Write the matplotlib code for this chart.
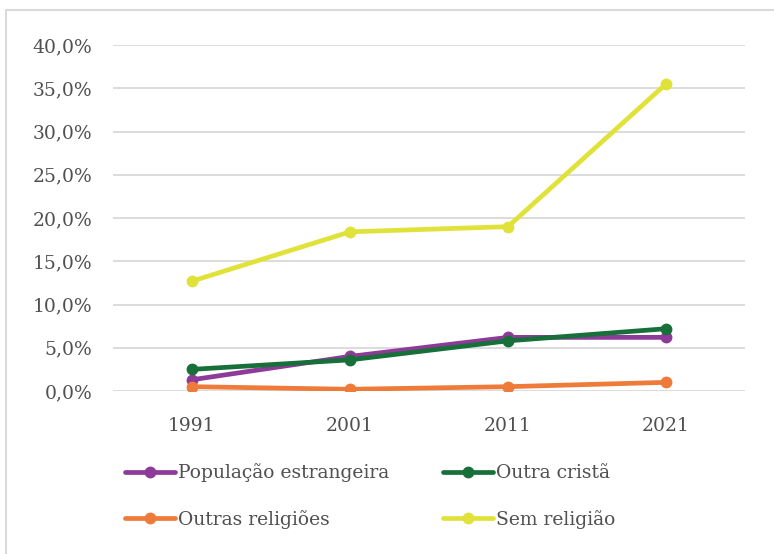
import matplotlib
matplotlib.use("Agg")
import matplotlib.pyplot as plt
from matplotlib.patches import Rectangle
from matplotlib.ticker import FuncFormatter

years = ["1991", "2001", "2011", "2021"]
pop_estrangeira = [1.3, 4.0, 6.2, 6.2]
outra_crista = [2.5, 3.6, 5.8, 7.2]
outras_religioes = [0.5, 0.2, 0.5, 1.0]
sem_religiao = [12.7, 18.4, 19.0, 35.5]

series = [
    ("População estrangeira", pop_estrangeira, "#8E3A98"),
    ("Outra cristã", outra_crista, "#17703A"),
    ("Outras religiões", outras_religioes, "#EE7B3A"),
    ("Sem religião", sem_religiao, "#E0E23A"),
]

plt.rcParams['font.family'] = ['DejaVu Serif']
text_color = "#505050"
fs = 13.5

fig = plt.figure(figsize=(7.74, 5.54), dpi=100)
fig.patches.append(Rectangle((6/774, -0.01), 1.0, 1 - 10/554 + 0.01, transform=fig.transFigure,
                             fill=False, edgecolor="#D9D9D9", linewidth=1.5))
ax = fig.add_axes([113/774, 1 - 391/554, (745-113)/774, (391-45)/554])

x = list(range(len(years)))
handles = {}
for name, vals, col in series:
    h, = ax.plot(x, vals, color=col, linewidth=3.4, marker='o', markersize=7.5,
                 solid_capstyle='round', label=name)
    handles[name] = h

ax.set_xlim(-0.5, len(years) - 0.5)
ax.set_ylim(0, 40)
ax.set_yticks([0, 5, 10, 15, 20, 25, 30, 35, 40])
ax.yaxis.set_major_formatter(FuncFormatter(lambda v, p: f"{v:.1f}%".replace(".", ",")))
ax.set_xticks(x)
ax.set_xticklabels(years)
ax.grid(axis='y', color="#D9D9D9", linewidth=1.3)
ax.set_axisbelow(True)
for s in ax.spines.values():
    s.set_visible(False)
ax.tick_params(length=0, labelsize=fs, colors=text_color)
ax.tick_params(axis='y', pad=15)
ax.tick_params(axis='x', pad=19)

order = ["População estrangeira", "Outras religiões", "Outra cristã", "Sem religião"]
leg = fig.legend([handles[n] for n in order], order, loc='center left',
                 bbox_to_anchor=(125/774, 1 - 496/554), ncol=2, frameon=False,
                 fontsize=fs, handlelength=2.67, handletextpad=0.16, columnspacing=2.85,
                 labelspacing=1.45, borderaxespad=0, borderpad=0)
for t in leg.get_texts():
    t.set_color(text_color)

fig.savefig("out.png", dpi=100)
